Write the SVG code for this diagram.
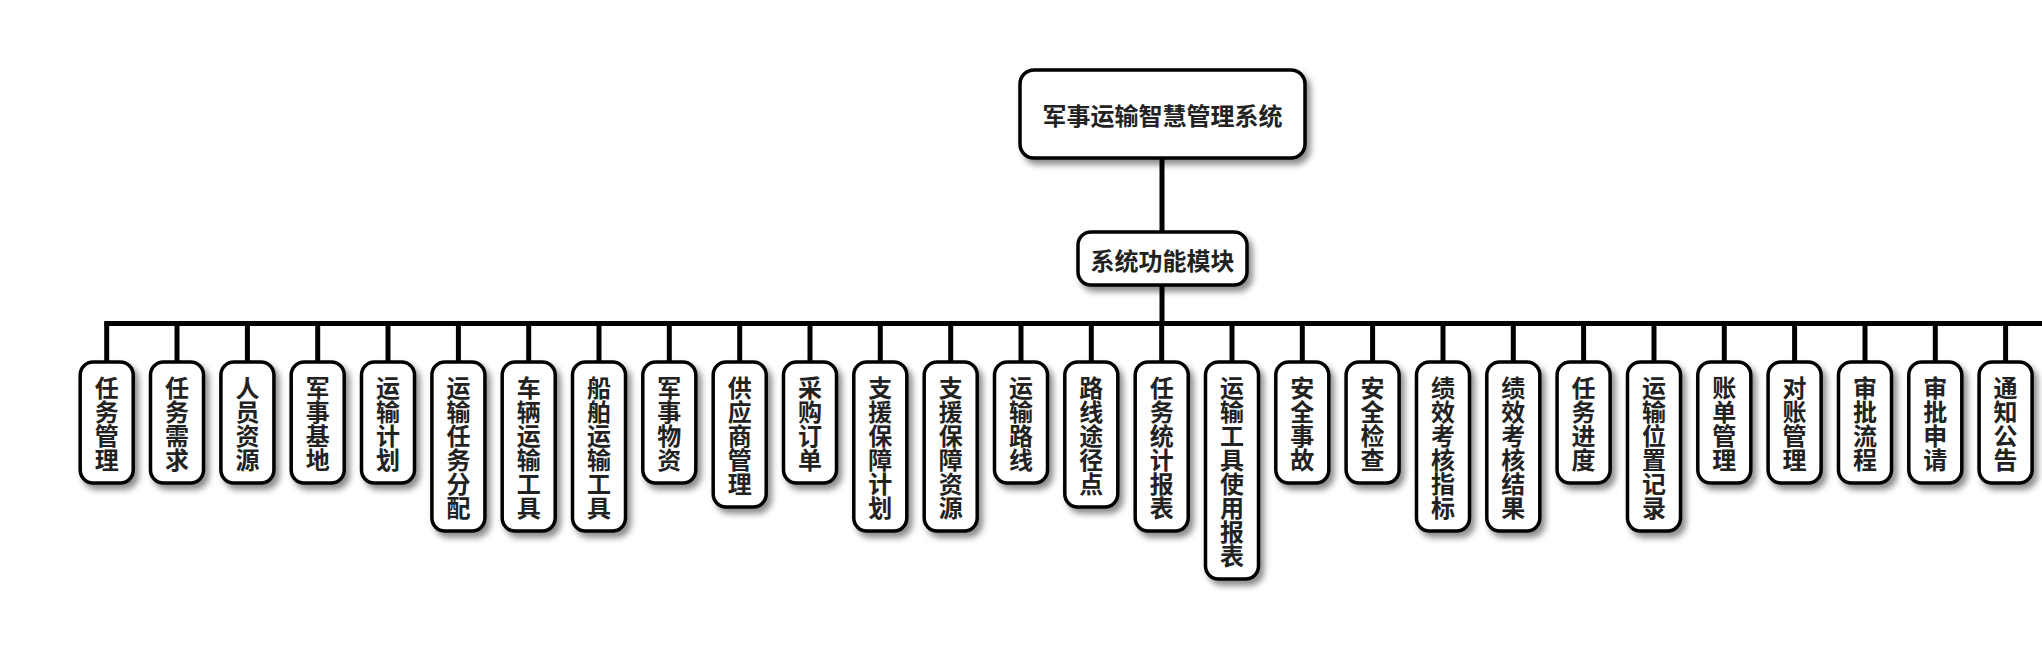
<svg xmlns="http://www.w3.org/2000/svg" width="2042" height="656" viewBox="0 0 2042 656">
<defs>
<filter id="sh" x="-30%" y="-30%" width="160%" height="160%">
<feDropShadow dx="4" dy="5" stdDeviation="3" flood-color="#000" flood-opacity="0.45"/>
</filter>
<style>
.box{fill:#fff;stroke:#000;stroke-width:3.5;filter:url(#sh)}
.t{font-family:"Noto Sans CJK SC","Noto Sans",sans-serif;font-weight:bold;font-size:24px;fill:#222;text-anchor:middle;dominant-baseline:central}
.v{font-family:"Noto Sans CJK SC","Noto Sans",sans-serif;font-weight:bold;font-size:24px;fill:#222;text-anchor:middle;writing-mode:vertical-rl}
.c{stroke:#000;stroke-width:5;fill:none}
</style>
</defs>
<rect width="2042" height="656" fill="#fff"/>
<g id="connectors">
<line class="c" x1="1162" y1="158" x2="1162" y2="232"/>
<line class="c" x1="1162" y1="285" x2="1162" y2="323"/>
<line class="c" x1="104.2" y1="323.5" x2="2042" y2="323.5"/>
<path class="c" d="M106.7 323V362M177 323V362M247.4 323V362M317.7 323V362M388 323V362M458.4 323V362M528.7 323V362M599 323V362M669.3 323V362M739.7 323V362M810 323V362M880.3 323V362M950.7 323V362M1021 323V362M1091.3 323V362M1161.7 323V362M1232 323V362M1302.3 323V362M1372.6 323V362M1443 323V362M1513.3 323V362M1583.6 323V362M1654 323V362M1724.3 323V362M1794.6 323V362M1865 323V362M1935.3 323V362M2005.6 323V362"/>
</g>
<g id="root"><rect class="box" x="1020" y="70" width="285" height="88" rx="14"/><text class="t" x="1162.5" y="114">军事运输智慧管理系统</text></g>
<g id="modules"><rect class="box" x="1078" y="232" width="169" height="53" rx="13"/><text class="t" x="1162.5" y="259">系统功能模块</text></g>
<g id="n0"><rect class="box" x="80.2" y="362" width="53" height="121" rx="13"/><text class="v" x="106.7" y="424">任务管理</text></g>
<g id="n1"><rect class="box" x="150.5" y="362" width="53" height="121" rx="13"/><text class="v" x="177" y="424">任务需求</text></g>
<g id="n2"><rect class="box" x="220.9" y="362" width="53" height="121" rx="13"/><text class="v" x="247.4" y="424">人员资源</text></g>
<g id="n3"><rect class="box" x="291.2" y="362" width="53" height="121" rx="13"/><text class="v" x="317.7" y="424">军事基地</text></g>
<g id="n4"><rect class="box" x="361.5" y="362" width="53" height="121" rx="13"/><text class="v" x="388" y="424">运输计划</text></g>
<g id="n5"><rect class="box" x="431.9" y="362" width="53" height="169" rx="13"/><text class="v" x="458.4" y="448">运输任务分配</text></g>
<g id="n6"><rect class="box" x="502.2" y="362" width="53" height="169" rx="13"/><text class="v" x="528.7" y="448">车辆运输工具</text></g>
<g id="n7"><rect class="box" x="572.5" y="362" width="53" height="169" rx="13"/><text class="v" x="599" y="448">船舶运输工具</text></g>
<g id="n8"><rect class="box" x="642.8" y="362" width="53" height="121" rx="13"/><text class="v" x="669.3" y="424">军事物资</text></g>
<g id="n9"><rect class="box" x="713.2" y="362" width="53" height="145" rx="13"/><text class="v" x="739.7" y="436">供应商管理</text></g>
<g id="n10"><rect class="box" x="783.5" y="362" width="53" height="121" rx="13"/><text class="v" x="810" y="424">采购订单</text></g>
<g id="n11"><rect class="box" x="853.8" y="362" width="53" height="169" rx="13"/><text class="v" x="880.3" y="448">支援保障计划</text></g>
<g id="n12"><rect class="box" x="924.2" y="362" width="53" height="169" rx="13"/><text class="v" x="950.7" y="448">支援保障资源</text></g>
<g id="n13"><rect class="box" x="994.5" y="362" width="53" height="121" rx="13"/><text class="v" x="1021" y="424">运输路线</text></g>
<g id="n14"><rect class="box" x="1064.8" y="362" width="53" height="145" rx="13"/><text class="v" x="1091.3" y="436">路线途径点</text></g>
<g id="n15"><rect class="box" x="1135.2" y="362" width="53" height="169" rx="13"/><text class="v" x="1161.7" y="448">任务统计报表</text></g>
<g id="n16"><rect class="box" x="1205.5" y="362" width="53" height="217" rx="13"/><text class="v" x="1232" y="472">运输工具使用报表</text></g>
<g id="n17"><rect class="box" x="1275.8" y="362" width="53" height="121" rx="13"/><text class="v" x="1302.3" y="424">安全事故</text></g>
<g id="n18"><rect class="box" x="1346.1" y="362" width="53" height="121" rx="13"/><text class="v" x="1372.6" y="424">安全检查</text></g>
<g id="n19"><rect class="box" x="1416.5" y="362" width="53" height="169" rx="13"/><text class="v" x="1443" y="448">绩效考核指标</text></g>
<g id="n20"><rect class="box" x="1486.8" y="362" width="53" height="169" rx="13"/><text class="v" x="1513.3" y="448">绩效考核结果</text></g>
<g id="n21"><rect class="box" x="1557.1" y="362" width="53" height="121" rx="13"/><text class="v" x="1583.6" y="424">任务进度</text></g>
<g id="n22"><rect class="box" x="1627.5" y="362" width="53" height="169" rx="13"/><text class="v" x="1654" y="448">运输位置记录</text></g>
<g id="n23"><rect class="box" x="1697.8" y="362" width="53" height="121" rx="13"/><text class="v" x="1724.3" y="424">账单管理</text></g>
<g id="n24"><rect class="box" x="1768.1" y="362" width="53" height="121" rx="13"/><text class="v" x="1794.6" y="424">对账管理</text></g>
<g id="n25"><rect class="box" x="1838.5" y="362" width="53" height="121" rx="13"/><text class="v" x="1865" y="424">审批流程</text></g>
<g id="n26"><rect class="box" x="1908.8" y="362" width="53" height="121" rx="13"/><text class="v" x="1935.3" y="424">审批申请</text></g>
<g id="n27"><rect class="box" x="1979.1" y="362" width="53" height="121" rx="13"/><text class="v" x="2005.6" y="424">通知公告</text></g>
</svg>
